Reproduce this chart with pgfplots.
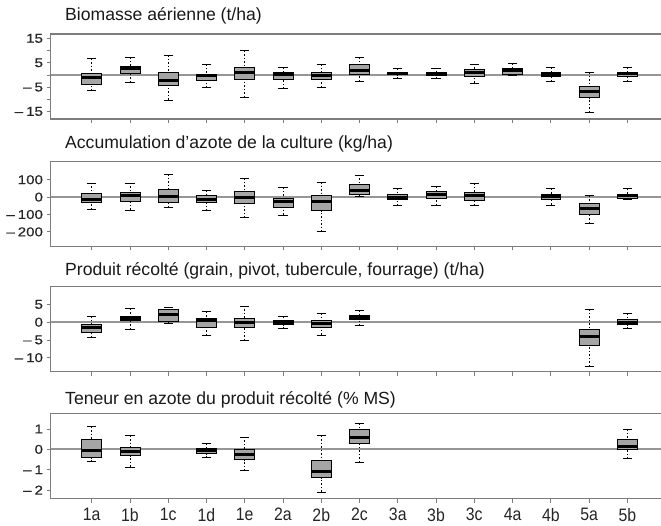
\documentclass[border=0pt]{standalone}
\usepackage{fontspec}
\setmainfont{Liberation Sans}
\newfontfamily\narrowfont{Liberation Sans}[FakeStretch=0.88]
\newfontfamily\widefont{Liberation Sans}[FakeStretch=1.18,FakeBold=0.6]
\usepackage{pgfplots}
\pgfplotsset{compat=1.18}
\usepgfplotslibrary{statistics}

\definecolor{boxfill}{RGB}{165,165,165}
\definecolor{bordergray}{RGB}{125,125,125}
\definecolor{zerogray}{RGB}{150,150,150}

\newcommand{\mn}{\textendash\hspace{3pt}}
\newcommand{\bp}[6]{\addplot[boxplot prepared={draw position=#1, lower whisker=#2, lower quartile=#3, median=#4, upper quartile=#5, upper whisker=#6}] coordinates {};}
\newcommand{\zeroline}{%
  \draw[zerogray, line width=1.8pt] (axis cs:-1.077,0) -- (axis cs:14.88,0);}
\newcommand{\panelborder}{%
  \draw[bordergray, line width=1.2pt] (rel axis cs:1,1) -- (rel axis cs:0,1) -- (rel axis cs:0,0) -- (rel axis cs:1,0);}

\pgfplotsset{panel/.style={
  scale only axis, width=610.5pt, height=85pt, anchor=south west,
  xmin=-1.077, xmax=14.88,
  xtick={0,...,14}, xticklabels={},
  axis line style={draw=none},
  tick align=outside, xtick pos=left, ytick pos=left,
  major tick length=4pt,
  tick style={bordergray, line width=0.8pt},
  yticklabel style={font=\widefont\fontsize{12.8}{14}\selectfont, text=black!85},
  xticklabel style={font=\narrowfont\fontsize{18}{20}\selectfont, text=black!85, yshift=-2pt},
  clip=false,
  boxplot/draw direction=y,
  boxplot/box extend=0.52,
  boxplot/every box/.style={fill=boxfill, draw=black, line width=0.7pt},
  boxplot/every median/.style={draw=black, line width=3pt},
  boxplot/draw/lower whisker/.code={%
    \draw[black, line width=0.6pt, dash pattern=on 1.5pt off 2pt]
      (boxplot box cs:\pgfplotsboxplotvalue{lower whisker},0.5) -- (boxplot box cs:\pgfplotsboxplotvalue{lower quartile},0.5);
    \draw[black, line width=0.7pt]
      (boxplot box cs:\pgfplotsboxplotvalue{lower whisker},0.27) -- (boxplot box cs:\pgfplotsboxplotvalue{lower whisker},0.73);
  },
  boxplot/draw/upper whisker/.code={%
    \draw[black, line width=0.6pt, dash pattern=on 1.5pt off 2pt]
      (boxplot box cs:\pgfplotsboxplotvalue{upper whisker},0.5) -- (boxplot box cs:\pgfplotsboxplotvalue{upper quartile},0.5);
    \draw[black, line width=0.7pt]
      (boxplot box cs:\pgfplotsboxplotvalue{upper whisker},0.27) -- (boxplot box cs:\pgfplotsboxplotvalue{upper whisker},0.73);
  },
}}

\begin{document}
\begin{tikzpicture}
\path[use as bounding box] (0,0) rectangle (661pt,525pt);

% Panel 1
\begin{axis}[panel, at={(50.5pt,406pt)}, ymin=-18.1, ymax=16.8,
  ytick={-15,-10,-5,0,5,10,15}, yticklabels={\mn 15,,\mn 5,,5,,15}]
\zeroline
\bp{0}{-6.4}{-3.9}{-1.25}{0.8}{6.7}
\bp{1}{-3.1}{0.8}{2.5}{3.6}{7.2}
\bp{2}{-10.3}{-4.2}{-2.2}{1.0}{8.0}
\bp{3}{-5.3}{-2.2}{-0.4}{0.4}{4.3}
\bp{4}{-9.2}{-1.7}{1.1}{3.3}{9.9}
\bp{5}{-5.6}{-1.7}{0.1}{1.25}{3.2}
\bp{6}{-5.0}{-1.7}{-0.1}{1.1}{4.3}
\bp{7}{-2.6}{0.3}{1.7}{4.3}{7.2}
\bp{8}{-1.4}{0.1}{0.7}{1.25}{2.6}
\bp{9}{-1.5}{-0.3}{0.55}{1.1}{2.9}
\bp{10}{-3.3}{-0.5}{0.85}{2.2}{4.5}
\bp{11}{-0.2}{0.25}{1.7}{2.6}{4.6}
\bp{12}{-2.5}{-0.45}{0.2}{1.1}{3.1}
\bp{13}{-15.3}{-9.3}{-6.9}{-4.5}{1.1}
\bp{14}{-2.5}{-0.7}{0.5}{1.2}{3.1}
\panelborder
\end{axis}

% Panel 2
\begin{axis}[panel, at={(50.5pt,278.5pt)}, ymin=-284, ymax=205,
  ytick={-200,-100,0,100}, yticklabels={\mn 200,\mn 100,0,100}]
\zeroline
\bp{0}{-71}{-30}{-11}{22}{82}
\bp{1}{-74}{-22}{7}{26}{82}
\bp{2}{-60}{-28}{2}{45}{132}
\bp{3}{-78}{-30}{-11}{11}{41}
\bp{4}{-119}{-34}{0}{34}{110}
\bp{5}{-102}{-56}{-26}{-7}{58}
\bp{6}{-199}{-78}{-26}{11}{86}
\bp{7}{7}{15}{37}{71}{128}
\bp{8}{-50}{-13}{0}{15}{52}
\bp{9}{-47}{-6}{15}{32}{60}
\bp{10}{-47}{-19}{11}{26}{80}
\bp{12}{-45}{-11}{6}{15}{48}
\bp{13}{-149}{-97}{-67}{-37}{9}
\bp{14}{-11}{-6}{9}{17}{48}
\panelborder
\end{axis}

% Panel 3
\begin{axis}[panel, at={(50.5pt,153.5pt)}, ymin=-13.9, ymax=10.06,
  ytick={-10,-5,0,5}, yticklabels={\mn 10,\mn 5,0,5}]
\zeroline
\bp{0}{-4.4}{-3.0}{-1.55}{-0.5}{1.65}
\bp{1}{-2.0}{0.4}{1.0}{1.65}{3.8}
\bp{2}{-0.4}{0.1}{2.3}{3.5}{4.3}
\bp{3}{-3.7}{-1.45}{0.6}{1.2}{3.0}
\bp{4}{-5.1}{-1.45}{-0.2}{1.0}{4.6}
\bp{5}{-1.75}{-0.7}{-0.2}{0.4}{1.55}
\bp{6}{-3.6}{-1.45}{-0.4}{0.4}{2.5}
\bp{7}{-1.0}{0.8}{1.35}{2.0}{3.4}
\bp{13}{-12.4}{-6.5}{-4.1}{-2.0}{3.6}
\bp{14}{-1.75}{-0.7}{0}{0.8}{2.5}
\panelborder
\end{axis}

% Panel 4
\begin{axis}[panel, at={(50.5pt,26.5pt)}, ymin=-2.41, ymax=1.76,
  ytick={-2,-1,0,1}, yticklabels={\mn 2,\mn 1,0,1},
  xticklabels={1a,1b,1c,1d,1e,2a,2b,2c,3a,3b,3c,4a,4b,5a,5b}]
\zeroline
\bp{0}{-0.58}{-0.4}{-0.05}{0.48}{1.12}
\bp{1}{-0.86}{-0.31}{-0.08}{0.08}{0.68}
\bp{3}{-0.4}{-0.21}{-0.07}{0.03}{0.28}
\bp{4}{-1.04}{-0.51}{-0.25}{-0.02}{0.61}
\bp{6}{-2.09}{-1.38}{-1.07}{-0.54}{0.68}
\bp{7}{-0.63}{0.28}{0.56}{0.99}{1.27}
\bp{14}{-0.45}{0}{0.12}{0.48}{0.99}
\panelborder
\end{axis}

\begin{scope}[every node/.style={anchor=base west, inner sep=0pt, font=\fontsize{17.6}{20}\selectfont, text=black!90}]
\node at (65pt,504pt) {Biomasse aérienne (t/ha)};
\node at (65pt,376pt) {Accumulation d'azote de la culture (kg/ha)};
\node at (65pt,249pt) {Produit récolté (grain, pivot, tubercule, fourrage) (t/ha)};
\node at (65pt,121pt) {Teneur en azote du produit récolté (\% MS)};
\end{scope}
\end{tikzpicture}
\end{document}
